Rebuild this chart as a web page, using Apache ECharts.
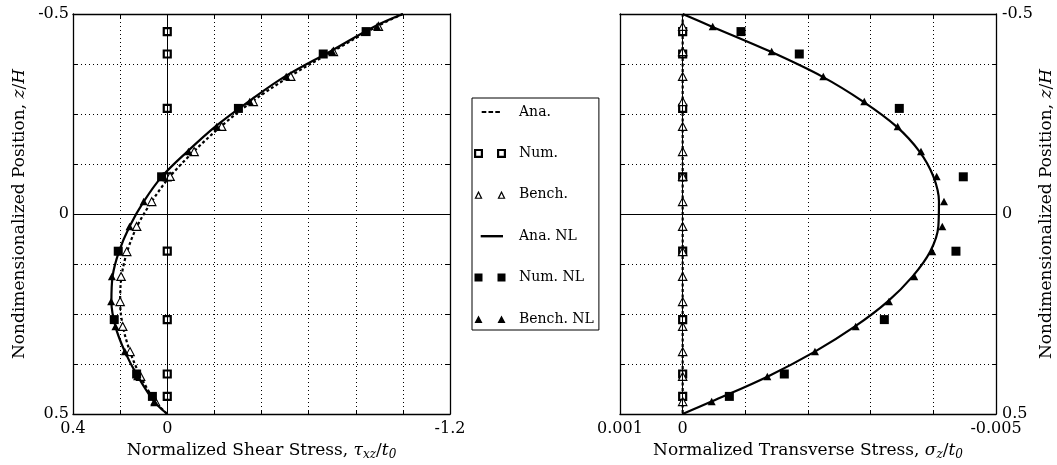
<!DOCTYPE html>
<html>
<head>
<meta charset="utf-8">
<script src="https://cdn.jsdelivr.net/npm/echarts@6/dist/echarts.min.js"></script>
<style>
  html, body { margin: 0; padding: 0; background: #fff; }
  #chart { width: 1057px; height: 465px; }
</style>
</head>
<body>
<div id="chart"></div>
<script>
// Through-thickness positions z/H
const zCurve = [-0.5, -0.469, -0.406, -0.344, -0.281, -0.219, -0.156, -0.094, -0.031,
                0.031, 0.094, 0.156, 0.219, 0.281, 0.344, 0.406, 0.469, 0.5];
const zBench = [-0.469, -0.406, -0.344, -0.281, -0.219, -0.156, -0.094, -0.031,
                0.031, 0.094, 0.156, 0.219, 0.281, 0.344, 0.406, 0.469];
const zNum = [-0.456, -0.4, -0.264, -0.093, 0.093, 0.264, 0.4, 0.456];

// Normalized shear stress tau_xz / t0
const shearAna = [-1.0, -0.89, -0.70, -0.52, -0.36, -0.228, -0.112, -0.012, 0.066,
                  0.128, 0.170, 0.194, 0.200, 0.188, 0.158, 0.113, 0.05, 0];
const shearNum = [0, 0, 0, 0, 0, 0, 0, 0];
const shearBench = [-0.896, -0.705, -0.524, -0.365, -0.231, -0.114, -0.012, 0.066,
                    0.130, 0.172, 0.196, 0.200, 0.189, 0.158, 0.113, 0.05];
const shearAnaNL = [-1.0, -0.88, -0.69, -0.50, -0.345, -0.205, -0.085, 0.022, 0.10,
                    0.16, 0.205, 0.232, 0.237, 0.22, 0.18, 0.125, 0.055, 0];
const shearNumNL = [-0.844, -0.662, -0.302, 0.024, 0.208, 0.225, 0.130, 0.063];
const shearBenchNL = [-0.89, -0.70, -0.505, -0.35, -0.21, -0.09, 0.02, 0.10,
                      0.16, 0.205, 0.235, 0.238, 0.22, 0.18, 0.128, 0.055];

// Normalized transverse stress sigma_z / t0
const transAna = [0, 0, 0, 0, 0, 0, 0, 0, 0, 0, 0, 0, 0, 0, 0, 0, 0, 0];
const transNum = [0, 0, 0, 0, 0, 0, 0, 0];
const transBench = [0, 0, 0, 0, 0, 0, 0, 0, 0, 0, 0, 0, 0, 0, 0, 0];
const transAnaNL = [0, -0.46e-3, -1.40e-3, -2.22e-3, -2.88e-3, -3.41e-3, -3.78e-3, -4.00e-3, -4.09e-3,
                    -4.08e-3, -3.95e-3, -3.67e-3, -3.27e-3, -2.75e-3, -2.11e-3, -1.36e-3, -0.46e-3, 0];
const transNumNL = [-0.931e-3, -1.861e-3, -3.457e-3, -4.478e-3, -4.361e-3, -3.218e-3, -1.622e-3, -0.745e-3];
const transBenchNL = [-0.479e-3, -1.42e-3, -2.244e-3, -2.898e-3, -3.431e-3, -3.803e-3, -4.053e-3, -4.17e-3,
                      -4.143e-3, -3.983e-3, -3.696e-3, -3.292e-3, -2.761e-3, -2.111e-3, -1.351e-3, -0.463e-3];

// Labelled ticks
const shearTickLabels = ['0.4', '0', '-1.2'];
const transTickLabels = ['0.001', '0', '-0.005'];
const zTickLabels = ['-0.5', '0', '0.5'];

const legendNames = ['Ana.', 'Num.', 'Bench.', 'Ana. NL', 'Num. NL', 'Bench. NL'];

const FONT = 'DejaVu Serif';
const INK = '#000';

function pairs(xs, zs) { return zs.map((z, i) => [xs[i], z]); }

function labelFormatter(labels) {
  const vals = labels.map(Number);
  return function (v) {
    for (let i = 0; i < vals.length; i++) {
      if (Math.abs(vals[i] - v) < 1e-9 * Math.max(1, Math.abs(vals[i])) + 1e-12) return labels[i];
    }
    return '';
  };
}

// Rich styles for axis titles with italic math and subscripts
function mathRich(size) {
  const lh = Math.round(size * 1.25);
  return {
    r: { fontFamily: FONT, fontSize: size, color: INK, lineHeight: lh },
    m: { fontFamily: FONT, fontSize: size, fontStyle: 'italic', color: INK, lineHeight: lh },
    s: { fontFamily: FONT, fontSize: Math.round(size * 0.7), fontStyle: 'italic', color: INK,
         lineHeight: Math.round(size * 0.75), verticalAlign: 'bottom' }
  };
}

const tickStyle = { show: true, inside: true, length: 4, lineStyle: { color: INK, width: 1 } };
const frameLine = { show: true, onZero: false, lineStyle: { color: INK, width: 1.3 } };
const gridDots = { show: true, lineStyle: { color: INK, width: 1, type: [1, 3] } };
const labelFont = { fontFamily: FONT, fontSize: 16, color: INK };

function xAxes(gridIndex, min, max, interval, labels, name) {
  return [
    {
      gridIndex, type: 'value', min, max, interval, inverse: true, position: 'bottom',
      axisLine: frameLine, axisTick: tickStyle, splitLine: gridDots,
      axisLabel: Object.assign({ margin: 7, formatter: labelFormatter(labels) }, labelFont),
      name, nameLocation: 'middle', nameGap: 26, nameMoveOverlap: false,
      nameTextStyle: { rich: mathRich(17), fontFamily: FONT, fontSize: 17, color: INK }
    },
    {
      gridIndex, type: 'value', min, max, interval, inverse: true, position: 'top',
      axisLine: frameLine, axisTick: tickStyle, splitLine: { show: false }, axisLabel: { show: false }
    }
  ];
}

function yAxes(gridIndex, labelSide) {
  const main = {
    gridIndex, type: 'value', min: -0.5, max: 0.5, interval: 0.125, inverse: true, position: labelSide,
    axisLine: frameLine, axisTick: tickStyle, splitLine: gridDots,
    axisLabel: Object.assign({ margin: labelSide === 'left' ? 4 : 6, formatter: labelFormatter(zTickLabels) }, labelFont),
    name: 'Nondimensionalized Position, {m|z}{r|/}{m|H}', nameLocation: 'middle', nameRotate: 90,
    nameGap: labelSide === 'left' ? 43 : 40, nameMoveOverlap: false,
    nameTextStyle: { rich: mathRich(17), fontFamily: FONT, fontSize: 17, color: INK }
  };
  const other = {
    gridIndex, type: 'value', min: -0.5, max: 0.5, interval: 0.125, inverse: true,
    position: labelSide === 'left' ? 'right' : 'left',
    axisLine: frameLine, axisTick: tickStyle, splitLine: { show: false }, axisLabel: { show: false }
  };
  return [main, other];
}

const zeroLines = {
  silent: true, symbol: 'none', animation: false,
  label: { show: false },
  lineStyle: { color: INK, width: 1, type: 'solid' },
  emphasis: { disabled: true },
  data: [{ xAxis: 0 }, { yAxis: 0 }]
};

function panelSeries(gi, ana, num, bench, anaNL, numNL, benchNL) {
  const ax = { xAxisIndex: gi * 2, yAxisIndex: gi * 2 };
  return [
    Object.assign({
      name: 'Ana.', type: 'line', data: pairs(ana, zCurve), smooth: 0.35, symbol: 'none',
      lineStyle: { color: INK, width: 2.2, type: [3, 2.5] }, itemStyle: { color: INK },
      markLine: zeroLines, z: 2
    }, ax),
    Object.assign({
      name: 'Num.', type: 'scatter', data: pairs(num, zNum), symbol: 'rect', symbolSize: 7,
      itemStyle: { color: '#fff', borderColor: INK, borderWidth: 2.2, opacity: 1 }, z: 3
    }, ax),
    Object.assign({
      name: 'Bench.', type: 'scatter', data: pairs(bench, zBench), symbol: 'triangle', symbolSize: [8.5, 8],
      itemStyle: { color: '#fff', borderColor: INK, borderWidth: 1.1, opacity: 1 }, z: 4
    }, ax),
    Object.assign({
      name: 'Ana. NL', type: 'line', data: pairs(anaNL, zCurve), smooth: 0.35, symbol: 'none',
      lineStyle: { color: INK, width: 2.2 }, itemStyle: { color: INK }, z: 5
    }, ax),
    Object.assign({
      name: 'Num. NL', type: 'scatter', data: pairs(numNL, zNum), symbol: 'rect', symbolSize: 9,
      itemStyle: { color: INK, opacity: 1 }, z: 6
    }, ax),
    Object.assign({
      name: 'Bench. NL', type: 'scatter', data: pairs(benchNL, zBench), symbol: 'triangle', symbolSize: [8, 7.5],
      itemStyle: { color: INK, opacity: 1 }, z: 7
    }, ax)
  ];
}

// Legend glyphs on a 32 x 10 frame (two markers centred at x = 4.5 and 27.5)
const FRAME = 'M0 0L0 0M32 10L32 10';
const legendIcons = {
  'Ana.': 'path://' + FRAME + 'M7.7 3.9H12.3V6.1H7.7ZM14.5 3.9H19.1V6.1H14.5ZM21.3 3.9H25.9V6.1H21.3Z',
  'Num.': 'path://' + FRAME +
    'M0 0.5H9V9.5H0ZM2.2 2.7V7.3H6.8V2.7Z' +
    'M23 0.5H32V9.5H23ZM25.2 2.7V7.3H29.8V2.7Z',
  'Bench.': 'path://' + FRAME +
    'M0.5 9L4.5 1L8.5 9ZM2.45 7.9L6.55 7.9L4.5 3.6Z' +
    'M23.5 9L27.5 1L31.5 9ZM25.45 7.9L29.55 7.9L27.5 3.6Z',
  'Ana. NL': 'path://' + FRAME + 'M6.7 3.8H29V6.2H6.7Z',
  'Num. NL': 'path://' + FRAME + 'M0.5 1H8.5V9H0.5ZM23.5 1H31.5V9H23.5Z',
  'Bench. NL': 'path://' + FRAME + 'M0.5 9L4.5 1.5L8.5 9ZM23.5 9L27.5 1.5L31.5 9Z'
};

const chart = echarts.init(document.getElementById('chart'), null, { renderer: 'canvas' });

const option = {
  animation: false,
  backgroundColor: '#fff',
  textStyle: { fontFamily: FONT },
  grid: [
    { left: 73, top: 14, width: 377, height: 400, containLabel: false, outerBoundsMode: 'none' },
    { left: 620, top: 14, width: 376, height: 400, containLabel: false, outerBoundsMode: 'none' }
  ],
  xAxis: [
    ...xAxes(0, -1.2, 0.4, 0.2, shearTickLabels, 'Normalized Shear Stress, {m|τ}{s|xz}{r|/}{m|t}{s|0}'),
    ...xAxes(1, -0.005, 0.001, 0.001, transTickLabels, 'Normalized Transverse Stress, {m|σ}{s|z}{r|/}{m|t}{s|0}')
  ],
  yAxis: [
    ...yAxes(0, 'left'),
    ...yAxes(1, 'right')
  ],
  legend: {
    orient: 'vertical', left: 472, top: 98,
    padding: [6, 5, 3, 2],
    borderColor: INK, borderWidth: 1, backgroundColor: '#fff',
    itemWidth: 32, itemHeight: 10, itemGap: 25.4,
    selectedMode: false,
    textStyle: { fontFamily: FONT, fontSize: 14, color: INK, lineHeight: 16, padding: [0, 0, 0, 8] },
    data: legendNames.map(n => ({
      name: n, icon: legendIcons[n],
      itemStyle: { color: INK, borderWidth: 0, opacity: 1 }
    }))
  },
  series: [
    ...panelSeries(0, shearAna, shearNum, shearBench, shearAnaNL, shearNumNL, shearBenchNL),
    ...panelSeries(1, transAna, transNum, transBench, transAnaNL, transNumNL, transBenchNL)
  ]
};

chart.setOption(option);
</script>
</body>
</html>
